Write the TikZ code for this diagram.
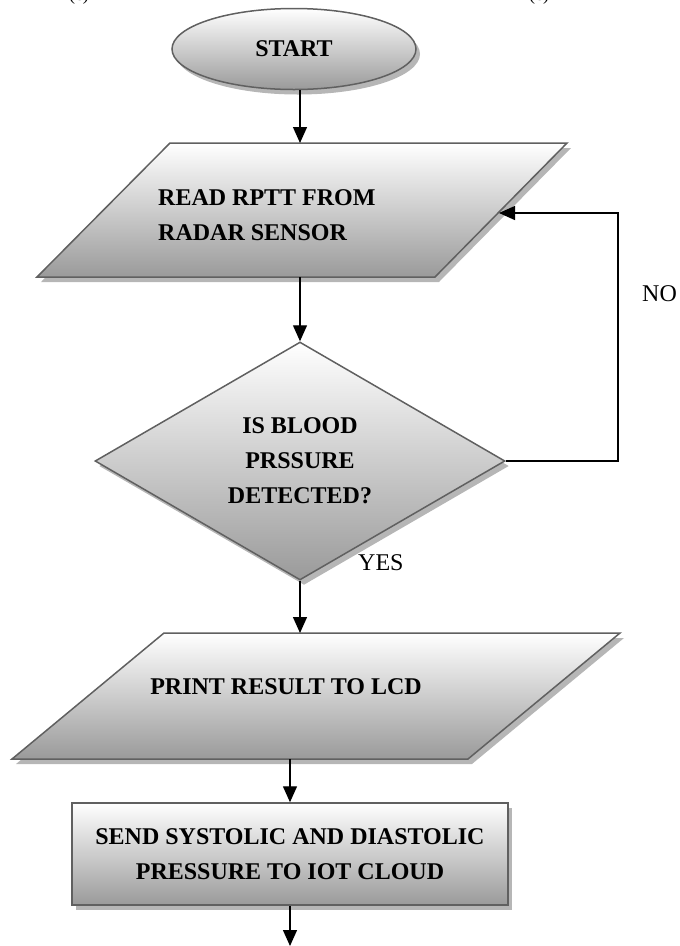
\documentclass[tikz,border=0pt]{standalone}
\usepackage{fontspec}
\setmainfont{Liberation Serif}
\usetikzlibrary{arrows.meta,shapes.geometric,shadows}
\definecolor{boxline}{HTML}{606060}
\definecolor{boxbottom}{HTML}{9A9A9A}
\definecolor{shadowgray}{HTML}{B6B6B6}
\begin{document}
\begin{tikzpicture}[x=1pt,y=-1pt,
  box/.style={draw=boxline, line width=1.5pt, top color=white, bottom color=boxbottom,
    drop shadow={shadow xshift=4pt, shadow yshift=-5pt, fill=shadowgray, opacity=1}},
  lbl/.style={font=\fontsize{24}{35}\selectfont\bfseries, align=center, text=black},
  plain/.style={font=\fontsize{24}{35}\selectfont, text=black, inner sep=0pt},
  arr/.style={line width=1.3pt, -{Triangle[length=16pt,width=14pt]}},
]
\useasboundingbox (0,0) rectangle (680,946);

% cut-off fragments at the top edge
\begin{scope}
  \clip (0,0) rectangle (680,946);
  \node[plain, font=\fontsize{18}{20}\selectfont, anchor=base] (frag1) at (79,0.5) {(c)};
  \node[plain, font=\fontsize{18}{20}\selectfont, anchor=base] (frag2) at (539,0.5) {(c)};
\end{scope}

% START
\node[box, ellipse, minimum width=244pt, minimum height=81pt, inner sep=0pt, lbl] (start) at (294,49) {START};

% READ parallelogram
\path[box] (170,143) -- (567,143) -- (435,277) -- (37,277) -- cycle;
\coordinate (readN) at (300,143);
\coordinate (readS) at (300,277);
\coordinate (readE) at (499,213);
\node[lbl, align=left, anchor=west, inner sep=0pt] (readtxt) at (158,215) {READ RPTT FROM\\RADAR SENSOR};

% decision
\node[box, diamond, minimum width=410pt, minimum height=238pt, inner sep=0pt, aspect=1.72, lbl] (check) at (300,461) {IS BLOOD\\PRSSURE\\DETECTED?};

% PRINT parallelogram
\path[box] (164,633) -- (620,633) -- (468,759) -- (12,759) -- cycle;
\coordinate (printN) at (300,633);
\coordinate (printS) at (290,759);
\node[lbl, inner sep=0pt] (printtxt) at (286,687) {PRINT RESULT TO LCD};

% SEND rectangle
\node[box, rectangle, minimum width=436pt, minimum height=102pt, inner sep=0pt, lbl] (send) at (290,854) {SEND SYSTOLIC AND DIASTOLIC\\PRESSURE TO IOT CLOUD};

\coordinate (loop) at (618,213);
\coordinate (endpt) at (290,946);

% connectors
\draw[arr] (start.south -| readN) -- (readN);
\draw[arr] (readS) -- (check.north);
\draw[arr] (check.east) -| (loop) -- (readE);
\draw[arr] (check.south) -- (printN);
\draw[arr] (printS) -- (send.north);
\draw[arr] (send.south) -- (endpt);

% labels
\node[plain, anchor=base west] (no) at (642,301) {NO};
\node[plain, anchor=base west] (yes) at (358,570) {YES};
\end{tikzpicture}
\end{document}
